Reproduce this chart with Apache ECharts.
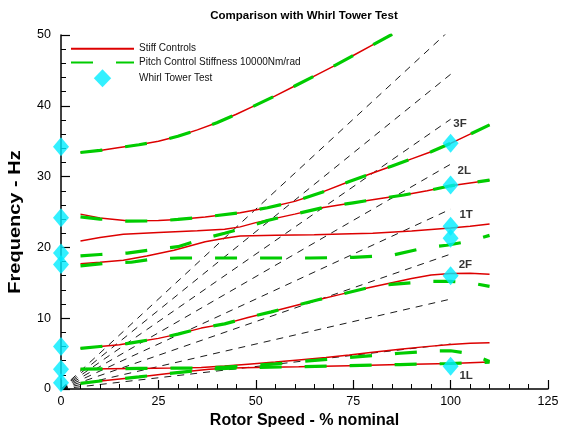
<!DOCTYPE html>
<html><head><meta charset="utf-8">
<script src="https://cdn.jsdelivr.net/npm/echarts@6/dist/echarts.min.js"></script>
<style>html,body{margin:0;padding:0;background:#fff}#c{width:562px;height:427px}</style>
</head><body><div id="c"></div>
<script>
const titleText = 'Comparison with Whirl Tower Test';
const xName = 'Rotor Speed - % nominal';
const yName = 'Frequency - Hz';
const stiffName = 'Stiff Controls';
const pitchName = 'Pitch Control Stiffness 10000Nm/rad';
const testName = 'Whirl Tower Test';

// Stiff Controls curves: [rotor speed %, frequency Hz]
const stiffA = [[5,33.4],[10,33.7],[15,34.1],[20,34.5],[25,35.0],[30,35.7],[35,36.6],[40,37.6],[45,38.8],[50,40.1],[55,41.4],[60,42.8],[65,44.2],[70,45.6],[75,47.1],[80,48.6],[85,50.1]];
const stiffB = [[5,24.7],[10,24.15],[17,23.75],[25,23.8],[30,23.95],[37,24.3],[46,24.9],[53,25.6],[60,26.5],[67,27.8],[74,29.3],[80,30.5],[85,31.5],[90,32.5],[95,33.5],[100,34.7],[105,36.0],[110,37.3]];
const stiffD = [[5,20.9],[10,21.4],[16,21.85],[25,22.1],[35,22.35],[42,22.55],[46,22.9],[50,23.5],[55,24.1],[60,24.7],[67,25.6],[75,26.3],[82,26.9],[88,27.4],[94,28.0],[100,28.7],[105,29.1],[110,29.5]];
const stiffE = [[5,17.7],[10,17.9],[16,18.2],[22,18.8],[29,19.6],[37,20.8],[42,21.3],[46,21.6],[55,21.7],[65,21.8],[72,21.9],[80,22.0],[90,22.3],[100,22.75],[105,23.0],[110,23.3]];
const stiff2F = [[5,5.75],[10,6.0],[15,6.25],[20,6.7],[25,7.15],[30,7.75],[36,8.6],[42,9.2],[48,10.1],[54,10.9],[60,11.75],[66,12.6],[72,13.4],[78,14.2],[84,14.9],[90,15.6],[95,16.1],[100,16.3],[105,16.35],[110,16.2]];
const stiffC1 = [[5,0.8],[12,1.25],[20,1.7],[27,2.15],[33,2.5],[38,2.8],[44,2.95],[50,3.05],[61,3.15],[74,3.3],[87,3.45],[100,3.6],[110,3.8]];
const stiffC2 = [[5,2.8],[12,2.85],[20,2.9],[28,2.95],[36,3.05],[42,3.25],[48,3.5],[55,3.8],[61,4.1],[68,4.45],[74,4.8],[80,5.2],[87,5.6],[93,5.95],[100,6.3],[105,6.45],[110,6.55]];

// Pitch Control Stiffness curves
const pitchA = [[5,33.4],[10,33.7],[15,34.1],[20,34.5],[25,35.0],[30,35.7],[35,36.6],[40,37.6],[45,38.8],[50,40.1],[55,41.4],[60,42.8],[65,44.2],[70,45.6],[75,47.1],[80,48.6],[85,50.1]];
const pitchB = [[5,24.3],[10,24.0],[17,23.7],[25,23.75],[30,23.95],[37,24.3],[46,24.9],[53,25.6],[60,26.5],[67,27.8],[74,29.3],[80,30.5],[85,31.5],[90,32.5],[95,33.5],[100,34.7],[105,36.0],[110,37.3]];
const pitchD = [[5,18.8],[10,19.0],[17,19.2],[25,19.8],[30,20.1],[37,21.3],[42,22.0],[48,22.9],[53,23.8],[60,24.7],[67,25.6],[75,26.3],[82,26.9],[88,27.4],[94,28.0],[100,28.7],[105,29.1],[110,29.5]];
const pitchE = [[5,17.4],[12,17.8],[18,17.9],[24,18.4],[30,18.5],[40,18.5],[50,18.5],[64,18.5],[75,18.6],[85,18.9],[94,20.0],[99,20.3],[105,20.9],[110,21.7]];
const pitch2F = [[5,5.75],[10,6.0],[15,6.25],[20,6.7],[25,7.15],[30,7.75],[36,8.6],[42,9.2],[48,10.1],[54,10.9],[60,11.75],[66,12.6],[72,13.4],[78,14.2],[84,14.75],[90,15.0],[95,15.2],[100,15.2],[105,15.0],[110,14.5]];
const pitchC1 = [[5,0.8],[12,1.25],[20,1.7],[27,2.15],[33,2.5],[38,2.8],[44,2.95],[50,3.05],[61,3.15],[74,3.3],[87,3.45],[100,3.6],[110,3.8]];
const pitchC2 = [[5,2.8],[12,2.85],[20,2.9],[28,2.95],[36,2.95],[42,3.1],[48,3.3],[55,3.55],[61,3.85],[74,4.45],[87,5.05],[95,5.35],[100,5.4],[105,5.0],[110,3.9]];

// Whirl tower test points
const testSpeed = [0,0,0,0,0,0,0,100,100,100,100,100,100];
const testFreq = [34.2,24.2,19.2,17.6,6.0,2.8,0.9,34.7,28.8,23.0,21.3,16.0,3.2];

// Mode labels
const modeNames = ['3F','2L','1T','2F','1L'];
const modeSpeed = [102.4,103.5,104,103.8,104];
const modeFreq = [37.4,30.8,24.6,17.6,1.8];

// Per-rev excitation lines (1P..8P), from origin to 100 % speed
const raySpeed = [0, 100];
const rayFreqAt100 = [6.35,12.7,19.05,25.4,31.75,38.1,44.45,50.8];

const FONT = '"Liberation Sans", Arial, sans-serif';
const stiffCurves = [stiffA, stiffB, stiffD, stiffE, stiff2F, stiffC1, stiffC2];
const pitchCurves = [pitchA, pitchB, pitchD, pitchE, pitch2F, pitchC1, pitchC2];

const series = [];
rayFreqAt100.forEach(f => {
  series.push({
    type: 'line', silent: true, z: 1, symbol: 'none', showSymbol: false,
    data: [[raySpeed[0], 0], [raySpeed[1], f]],
    lineStyle: { color: '#000', width: 0.9, type: [7, 6] }
  });
});
stiffCurves.forEach(d => {
  series.push({
    name: stiffName, type: 'line', z: 2, symbol: 'none', showSymbol: false, data: d,
    lineStyle: { color: '#dd0000', width: 1.5 }, itemStyle: { color: '#dd0000' }
  });
});
pitchCurves.forEach(d => {
  series.push({
    name: pitchName, type: 'line', z: 3, symbol: 'none', showSymbol: false, data: d,
    lineStyle: { color: '#00cc00', width: 3.2, type: [22, 23] }, itemStyle: { color: '#00cc00' }
  });
});
series.push({
  name: testName, type: 'scatter', z: 4, clip: false, symbol: 'diamond', symbolSize: [16, 19],
  itemStyle: { color: '#00ecff' },
  data: testSpeed.map((s, i) => [s, testFreq[i]])
});
series.push({
  type: 'scatter', z: 5, clip: false, symbolSize: 1, silent: true,
  itemStyle: { color: 'transparent' },
  label: { show: true, position: 'inside', formatter: '{b}', color: '#000', fontWeight: 'bold', fontSize: 11.5, fontFamily: FONT },
  data: modeNames.map((n, i) => ({ name: n, value: [modeSpeed[i], modeFreq[i]] }))
});

const axisCommon = {
  axisLine: { show: true, lineStyle: { color: '#000', width: 1.5 } },
  axisTick: { show: true, inside: true, length: 9, lineStyle: { color: '#000', width: 1.2 } },
  minorTick: { show: true, splitNumber: 5, length: 5, lineStyle: { color: '#000', width: 1 } },
  splitLine: { show: false },
  minorSplitLine: { show: false },
};

const chart = echarts.init(document.getElementById('c'), null, { renderer: 'canvas' });
chart.setOption({
  animation: false,
  backgroundColor: '#fff',
  title: {
    text: titleText, left: 304, top: 10, textAlign: 'center', padding: 0,
    textStyle: { fontSize: 11.5, fontWeight: 'bold', color: '#000', fontFamily: FONT }
  },
  legend: {
    orient: 'vertical', left: 70, top: 41.5, padding: 0, itemWidth: 63, itemHeight: 18, itemGap: -0.5,
    symbolKeepAspect: true,
    data: [
      { name: stiffName, itemStyle: { opacity: 0 } },
      { name: pitchName, itemStyle: { opacity: 0 } },
      { name: testName, icon: 'path://M8,0L16,8.3L8,16.6L0,8.3Z' }
    ],
    textStyle: { fontSize: 10, color: '#111', fontFamily: FONT },
    selectedMode: false
  },
  grid: { left: 61, right: 14, top: 35, bottom: 38, outerBoundsMode: 'none', containLabel: false },
  xAxis: Object.assign({
    type: 'value', min: 0, max: 125, interval: 25,
    name: xName, nameLocation: 'middle', nameGap: 19,
    nameTextStyle: { fontSize: 16, fontWeight: 'bold', color: '#000', fontFamily: FONT },
    axisLabel: { fontSize: 12.5, color: '#000', margin: 6, fontFamily: FONT }
  }, axisCommon),
  yAxis: Object.assign({
    type: 'value', min: 0, max: 50, interval: 10,
    axisLabel: { fontSize: 12.5, color: '#000', margin: 10, fontFamily: FONT }
  }, axisCommon),
  graphic: [{
    type: 'text', x: 16, y: 222, rotation: Math.PI / 2, scaleX: 1.25,
    style: { text: yName, fontSize: 16, fontWeight: 'bold', fontFamily: FONT, fill: '#000', align: 'center', verticalAlign: 'middle' }
  }],
  series: series
});
</script>
</body></html>
